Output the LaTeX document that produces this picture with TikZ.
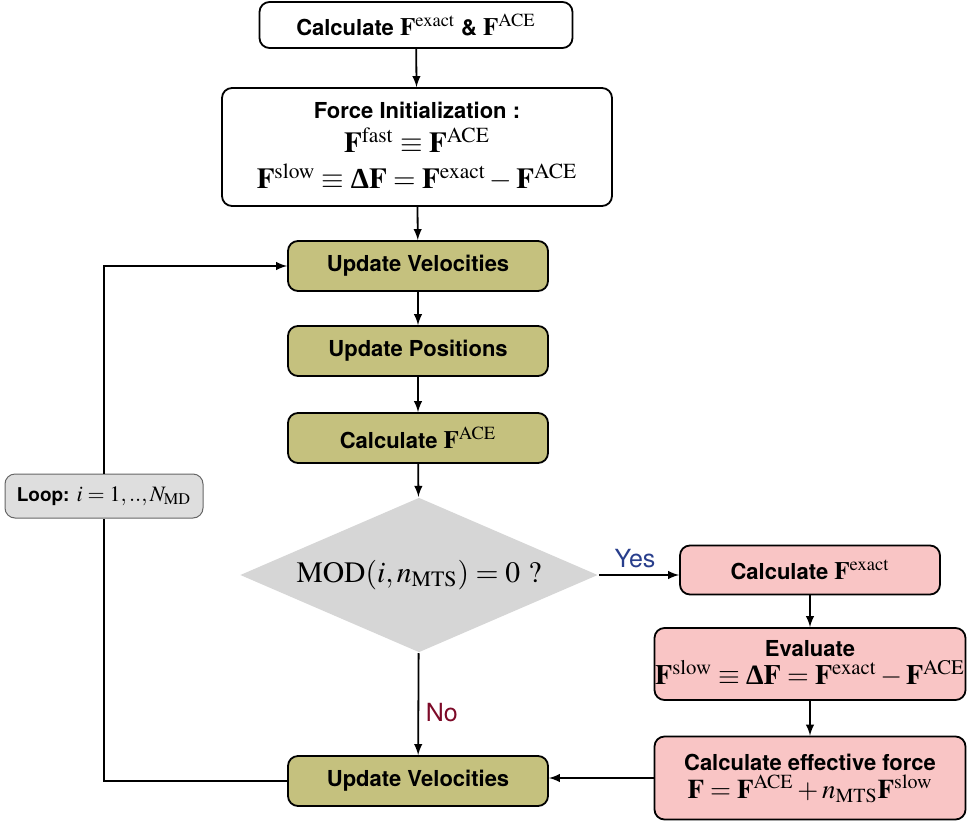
\documentclass[tikz,border=0pt]{standalone}
\usepackage{mathptmx}
\usepackage[no-math]{fontspec}
\setmainfont{TeX Gyre Heros}
\newfontfamily\serifbold{Liberation Serif}[UprightFont=*-Bold]
\usetikzlibrary{shapes.geometric}

\definecolor{olivebox}{RGB}{197,193,126}
\definecolor{pinkbox}{RGB}{249,197,197}
\definecolor{loopgray}{RGB}{222,222,222}
\definecolor{diagray}{RGB}{214,214,214}
\definecolor{yesblue}{RGB}{40,62,140}
\definecolor{nored}{RGB}{125,10,40}

\newcommand{\dF}{\mbox{\serifbold Δ}\mathbf{F}}
\newcommand{\bigmath}[1]{{\fontsize{12.5}{13}\selectfont$#1$}}

\begin{document}
\begin{tikzpicture}[x=0.5pt, y=-0.5pt, >=latex, line width=0.9pt,
    box/.style={draw, rounded corners=5pt, align=center, inner sep=0pt, font=\fontsize{11}{13}\selectfont\bfseries},
    whitebox/.style={box, fill=white},
    stepbox/.style={box, fill=olivebox, minimum width=130pt, minimum height=25pt},
    forcebox/.style={box, fill=pinkbox, minimum width=155.5pt},
    loopbox/.style={box, fill=loopgray, draw=black!60, line width=0.5pt, minimum width=99pt, minimum height=22pt, font=\fontsize{9.5}{11}\selectfont\bfseries},
    decision/.style={diamond, aspect=2.3, fill=diagray, inner sep=0pt, minimum width=179pt, minimum height=77.5pt, font=\fontsize{14.8}{16}\selectfont},
    answer/.style={font=\fontsize{12.5}{14}\selectfont}]
    \useasboundingbox (0,0) rectangle (967,824);

    \node[whitebox, minimum width=156.5pt, minimum height=23pt] (calc) at (416,25) {Calculate \bigmath{\mathbf{F}^{\mathrm{exact}}} \& \bigmath{\mathbf{F}^{\mathrm{ACE}}}};
    \node[whitebox, minimum width=195pt, minimum height=59pt] (init) at (417,147)
        {Force Initialization :\\[4pt]
         \fontsize{14.5}{15}\selectfont $\mathbf{F}^{\mathrm{fast}}\equiv\mathbf{F}^{\mathrm{ACE}}$\\[5pt]
         \fontsize{14.5}{15}\selectfont $\mathbf{F}^{\mathrm{slow}}\equiv\dF=\mathbf{F}^{\mathrm{exact}}-\mathbf{F}^{\mathrm{ACE}}$};
    \node[stepbox] (vel1) at (418,266) {Update Velocities};
    \node[stepbox] (pos) at (418,351) {Update Positions};
    \node[stepbox] (ace) at (418,438) {Calculate \bigmath{\mathbf{F}^{\mathrm{ACE}}}};
    \node[decision] (mod) at (419,575) {$\mathrm{MOD}(i,n_{\mathrm{MTS}})=0\ ?$};
    \node[stepbox] (vel2) at (418,781) {Update Velocities};
    \node[loopbox] (loop) at (104,496) {Loop: {\fontsize{11}{12}\selectfont$i=1,..,N_{\mathrm{MD}}$}};

    % MTS branch
    \node[forcebox, minimum width=130pt, minimum height=24.5pt] (exact) at (810,570) {Calculate \bigmath{\mathbf{F}^{\mathrm{exact}}}};
    \node[forcebox, minimum height=36pt] (eval) at (810,664)
        {Evaluate\\[1pt]
         \fontsize{14}{15}\selectfont $\mathbf{F}^{\mathrm{slow}}\equiv\dF=\mathbf{F}^{\mathrm{exact}}-\mathbf{F}^{\mathrm{ACE}}$};
    \node[forcebox, minimum height=41.5pt] (eff) at (810,778)
        {Calculate effective force\\[1pt]
         \fontsize{13.5}{15}\selectfont $\mathbf{F}=\mathbf{F}^{\mathrm{ACE}}+n_{\mathrm{MTS}}\mathbf{F}^{\mathrm{slow}}$};

    \draw[->] (calc) -- (init);
    \draw[->] (init) -- (vel1);
    \draw[->] (vel1) -- (pos);
    \draw[->] (pos) -- (ace);
    \draw[->] (ace) -- (mod);
    \draw[->] (mod) -- node[right, text=nored, answer, pos=0.58] {No} (vel2);
    \draw[->] (mod.east) -- node[above, text=yesblue, answer, pos=0.45] {Yes} (exact.west |- mod.east);
    \draw[->] (exact) -- (eval);
    \draw[->] (eval) -- (eff);
    \draw[->] (eff.west) -- (eff.west -| vel2.east);

    % loop back
    \draw (vel2.west) -| (loop.south);
    \draw[->] (loop.north) |- (vel1.west);
\end{tikzpicture}
\end{document}
